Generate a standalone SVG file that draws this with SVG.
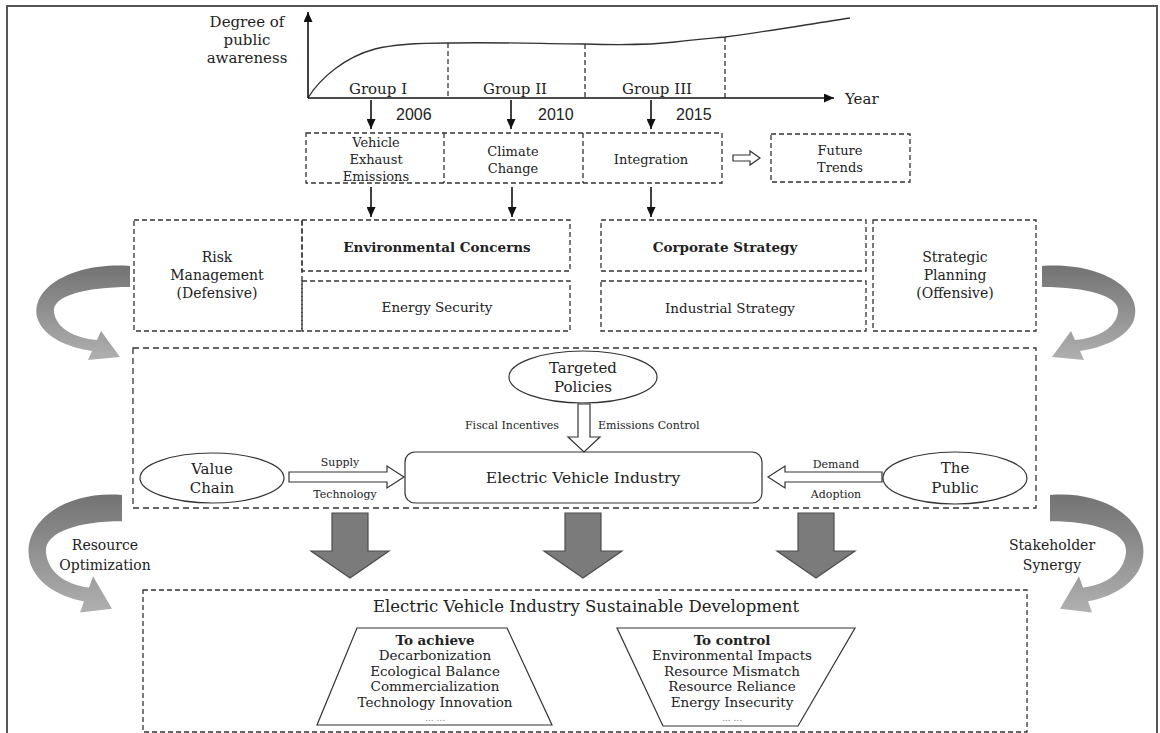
<svg xmlns="http://www.w3.org/2000/svg" width="1160" height="733" viewBox="0 0 1160 733">
<style>
text{font-family:"DejaVu Serif","Liberation Serif",serif;fill:#222;text-anchor:middle}
.yr{font-family:"Liberation Sans",Arial,sans-serif;font-size:16px;text-anchor:start}
.sm{font-size:11px}
.b{font-weight:bold}
.dash{fill:none;stroke:#333;stroke-width:1.3;stroke-dasharray:5 3}
.ln{fill:none;stroke:#111;stroke-width:1.6}
.hol{fill:#fff;stroke:#333;stroke-width:1.2}
.big{fill:#7b7b7b;stroke:#4c4c4c;stroke-width:1.2}
.curl{fill:url(#gg)}
</style>
<defs>
<marker id="ah" markerUnits="userSpaceOnUse" markerWidth="10" markerHeight="9" refX="10" refY="4.5" orient="auto"><path d="M0,0 L10,4.5 L0,9 z" fill="#111"/></marker>
<linearGradient id="gg" x1="0" y1="0" x2="0" y2="1"><stop offset="0" stop-color="#737373"/><stop offset="1" stop-color="#b0b0b0"/></linearGradient>
<path id="curlp" d="M0,0 C-60,-4 -102,24 -92,54 C-85,72 -60,82 -38,85 L-42,94 L-10,91 L-29,65 L-33,74 C-56,72 -74,62 -76,46 C-78,30 -45,21 0,21 Z"/>
</defs>
<rect x="7" y="6" width="1150" height="760" fill="none" stroke="#555" stroke-width="2"/>

<g id="chart">
<text x="247" y="27" font-size="15">Degree of</text>
<text x="247" y="45" font-size="15">public</text>
<text x="247" y="63" font-size="15">awareness</text>
<path d="M308,98 C320,78 345,57 375,49 C395,44 420,43 448,43 C500,42 550,44 585,44 C620,45 650,45 675,42 C700,39 715,38 725,37 C770,31 810,24 850,18" fill="none" stroke="#333" stroke-width="1.3"/>
<line x1="448" y1="43" x2="448" y2="98" class="dash"/>
<line x1="585" y1="44" x2="585" y2="98" class="dash"/>
<line x1="725" y1="37" x2="725" y2="98" class="dash"/>
<text x="378" y="94" font-size="15">Group I</text>
<text x="515" y="94" font-size="15">Group II</text>
<text x="657" y="94" font-size="15">Group III</text>
<text x="845" y="104" font-size="15" style="text-anchor:start">Year</text>
<text x="396" y="120" class="yr">2006</text>
<text x="538" y="120" class="yr">2010</text>
<text x="676" y="120" class="yr">2015</text>
</g>

<g id="phases">
<rect x="306" y="133" width="416" height="50" class="dash"/>
<line x1="444" y1="133" x2="444" y2="183" class="dash"/>
<line x1="583" y1="133" x2="583" y2="183" class="dash"/>
<text x="376" y="147" font-size="13">Vehicle</text>
<text x="376" y="164" font-size="13">Exhaust</text>
<text x="376" y="181" font-size="13">Emissions</text>
<text x="513" y="156" font-size="13">Climate</text>
<text x="513" y="173" font-size="13">Change</text>
<text x="651" y="164" font-size="13">Integration</text>
</g>
<g id="future">
<rect x="771" y="134" width="139" height="48" class="dash"/>
<text x="840" y="155" font-size="13">Future</text>
<text x="840" y="172" font-size="13">Trends</text>
</g>

<g id="risk">
<rect x="134" y="220" width="168" height="111" class="dash"/>
<text x="217" y="262" font-size="14">Risk</text>
<text x="217" y="280" font-size="14">Management</text>
<text x="217" y="298" font-size="14">(Defensive)</text>
</g>
<g id="env">
<rect x="302" y="220" width="268" height="51" class="dash"/>
<text x="437" y="252" font-size="13.5" class="b">Environmental  Concerns</text>
</g>
<g id="energy">
<rect x="302" y="281" width="268" height="50" class="dash"/>
<text x="437" y="312" font-size="13.5">Energy Security</text>
</g>
<g id="corporate">
<rect x="601" y="220" width="265" height="51" class="dash"/>
<text x="725" y="252" font-size="13.5" class="b">Corporate Strategy</text>
</g>
<g id="industrial">
<rect x="601" y="281" width="265" height="50" class="dash"/>
<text x="730" y="313" font-size="13.5">Industrial Strategy</text>
</g>
<g id="strategic">
<rect x="873" y="220" width="163" height="111" class="dash"/>
<text x="955" y="262" font-size="14">Strategic</text>
<text x="955" y="280" font-size="14">Planning</text>
<text x="955" y="298" font-size="14">(Offensive)</text>
</g>

<g id="system">
<rect x="133" y="348" width="903" height="160" class="dash" style="stroke-dasharray:6 4"/>
</g>
<g id="policies">
<ellipse cx="583" cy="377" rx="74" ry="26" fill="#fff" stroke="#333" stroke-width="1.2"/>
<text x="583" y="373" font-size="15">Targeted</text>
<text x="583" y="392" font-size="15">Policies</text>
</g>
<g id="evi">
<rect x="405" y="452" width="357" height="51" rx="10" fill="#fff" stroke="#333" stroke-width="1.2"/>
<text x="583" y="483" font-size="15.5">Electric Vehicle Industry</text>
</g>
<g id="valuechain">
<ellipse cx="212" cy="478" rx="72" ry="25" fill="#fff" stroke="#333" stroke-width="1.2"/>
<text x="212" y="474" font-size="15">Value</text>
<text x="212" y="493" font-size="15">Chain</text>
</g>
<g id="public">
<ellipse cx="955" cy="478" rx="72" ry="26" fill="#fff" stroke="#333" stroke-width="1.2"/>
<text x="955" y="473" font-size="15">The</text>
<text x="955" y="493" font-size="15">Public</text>
</g>

<g id="goal">
<rect x="143" y="590" width="884" height="142" class="dash"/>
<text x="586" y="612" font-size="16.5">Electric Vehicle Industry Sustainable Development</text>
</g>
<g id="achieve">
<polygon points="357,628 507,628 552,725 317,725" fill="#fff" stroke="#333" stroke-width="1.2"/>
<text x="435" y="645" font-size="13.5" class="b">To achieve</text>
<text x="435" y="660" font-size="13.5">Decarbonization</text>
<text x="435" y="676" font-size="13.5">Ecological  Balance</text>
<text x="435" y="691" font-size="13.5">Commercialization</text>
<text x="435" y="707" font-size="13.5">Technology Innovation</text>
<text x="435" y="721" font-size="9" style="fill:#888">... ...</text>
</g>
<g id="control">
<polygon points="617,628 855,628 798,726 663,726" fill="#fff" stroke="#333" stroke-width="1.2"/>
<text x="732" y="645" font-size="13.5" class="b">To control</text>
<text x="732" y="660" font-size="13.5">Environmental Impacts</text>
<text x="732" y="676" font-size="13.5">Resource Mismatch</text>
<text x="732" y="691" font-size="13.5">Resource Reliance</text>
<text x="732" y="707" font-size="13.5">Energy Insecurity</text>
<text x="732" y="721" font-size="9" style="fill:#888">... ...</text>
</g>

<g id="connectors">
<line x1="308" y1="98" x2="308" y2="12" class="ln" marker-end="url(#ah)"/>
<line x1="308" y1="98" x2="834" y2="98" class="ln" marker-end="url(#ah)"/>
<line x1="371" y1="100" x2="371" y2="129" class="ln" marker-end="url(#ah)"/>
<line x1="511" y1="100" x2="511" y2="129" class="ln" marker-end="url(#ah)"/>
<line x1="651" y1="100" x2="651" y2="129" class="ln" marker-end="url(#ah)"/>
<line x1="371" y1="187" x2="371" y2="217" class="ln" marker-end="url(#ah)"/>
<line x1="512" y1="187" x2="512" y2="217" class="ln" marker-end="url(#ah)"/>
<line x1="651" y1="187" x2="651" y2="217" class="ln" marker-end="url(#ah)"/>
<polygon points="733,155 750,155 750,151 760,158 750,165 750,161 733,161" class="hol"/>
<polygon points="578,404 590,404 590,437 600,437 584,452 568,437 578,437" class="hol"/>
<polygon points="289,472 387,472 387,466 404,477 387,488 387,482 289,482" class="hol"/>
<polygon points="882,472 785,472 785,466 768,477 785,488 785,482 882,482" class="hol"/>
<text x="512" y="429" class="sm">Fiscal Incentives</text>
<text x="598" y="429" class="sm" style="text-anchor:start">Emissions Control</text>
<text x="340" y="466" class="sm">Supply</text>
<text x="345" y="498" class="sm">Technology</text>
<text x="836" y="468" class="sm">Demand</text>
<text x="836" y="498" class="sm">Adoption</text>
<polygon points="332,513 368,513 368,551 389,551 350,578 311,551 332,551" class="big"/>
<polygon points="565,513 601,513 601,551 622,551 583,578 544,551 565,551" class="big"/>
<polygon points="798,513 834,513 834,551 855,551 816,578 777,551 798,551" class="big"/>
<use href="#curlp" class="curl" transform="translate(130,266)"/>
<use href="#curlp" class="curl" transform="translate(1042,266) scale(-1,1)"/>
<use href="#curlp" class="curl" transform="translate(122,495) scale(1,1.25)"/>
<use href="#curlp" class="curl" transform="translate(1050,495) scale(-1,1.25)"/>
<text x="105" y="550" font-size="14">Resource</text>
<text x="105" y="570" font-size="14">Optimization</text>
<text x="1052" y="550" font-size="14">Stakeholder</text>
<text x="1052" y="570" font-size="14">Synergy</text>
</g>
</svg>
